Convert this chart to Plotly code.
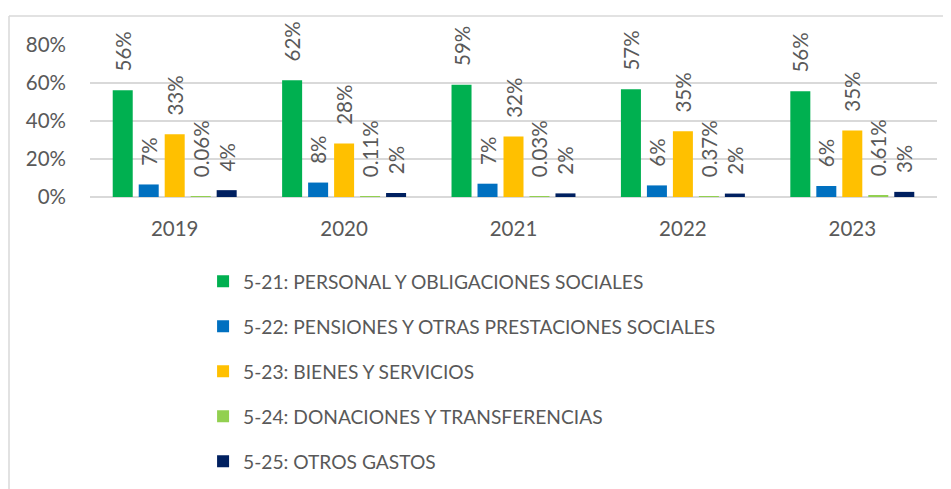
import plotly.graph_objects as go

years = ["2019", "2020", "2021", "2022", "2023"]
series_names = [
    "5-21: PERSONAL Y OBLIGACIONES SOCIALES",
    "5-22: PENSIONES Y OTRAS PRESTACIONES SOCIALES",
    "5-23: BIENES Y SERVICIOS",
    "5-24: DONACIONES Y TRANSFERENCIAS",
    "5-25: OTROS GASTOS",
]
personal = [0.562, 0.615, 0.591, 0.567, 0.556]
pensiones = [0.066, 0.076, 0.070, 0.061, 0.058]
bienes = [0.330, 0.281, 0.318, 0.346, 0.350]
donaciones = [0.0006, 0.0011, 0.0003, 0.0037, 0.0061]
otros = [0.036, 0.021, 0.019, 0.018, 0.027]
series_values = [personal, pensiones, bienes, donaciones, otros]
label_formats = [".0%", ".0%", ".0%", ".2%", ".0%"]
colors = ["#00B050", "#0070C0", "#FFC000", "#92D050", "#002060"]
tick_vals = [0, 0.2, 0.4, 0.6, 0.8]
tick_text = ["0%", "20%", "40%", "60%", "80%"]

FONT = "Lato"
GREY = "#595959"
fs = 20.5
lfs = 19.2

fig = go.Figure()
for i, (name, vals, fmt, col) in enumerate(zip(series_names, series_values, label_formats, colors)):
    fig.add_trace(go.Bar(
        x=years, y=vals, name=name,
        marker=dict(color=col, line=dict(width=0)),
        texttemplate="\u00a0\u00a0\u00a0%{y:" + fmt + "}",
        textposition="outside",
        textangle=-90,
        constraintext="none",
        cliponaxis=False,
        outsidetextfont=dict(family=FONT, size=fs, color=GREY),
        legendgroup=f"g{i}",
        hoverinfo="skip",
    ))

fig.update_layout(
    width=943, height=481,
    margin=dict(l=82, r=14, t=37, b=292, autoexpand=False),
    paper_bgcolor="white", plot_bgcolor="white",
    barmode="group", bargap=0.233, bargroupgap=0.23,
    font=dict(family=FONT, size=fs, color=GREY),
    showlegend=True,
    legend=dict(
        orientation="v", x=0.1335, xanchor="left", y=-0.43, yanchor="top",
        font=dict(family=FONT, size=lfs, color=GREY),
        tracegroupgap=17, itemwidth=30,
        bgcolor="rgba(0,0,0,0)",
    ),
    xaxis=dict(
        showgrid=False, showline=False, ticks="",
        tickfont=dict(family=FONT, size=fs, color=GREY),
        ticklabelstandoff=17,
    ),
    yaxis=dict(
        range=[0, 0.8], tickvals=tick_vals, ticktext=tick_text,
        showgrid=True, gridcolor="#D9D9D9", gridwidth=1.5,
        zeroline=True, zerolinecolor="#D9D9D9", zerolinewidth=1.5,
        showline=False, ticks="",
        tickfont=dict(family=FONT, size=fs, color=GREY),
        ticklabelstandoff=23,
    ),
    shapes=[
        dict(type="line", xref="paper", yref="paper", x0=-81/847, x1=1.2, y0=1 + 29/152, y1=1 + 29/152,
             line=dict(color="#D9D9D9", width=1.5)),
        dict(type="line", xref="paper", yref="paper", x0=-81/847, x1=-81/847, y0=1 + 29/152, y1=-2.2,
             line=dict(color="#D9D9D9", width=1.5)),
    ],
)

fig.write_html("out.html")
